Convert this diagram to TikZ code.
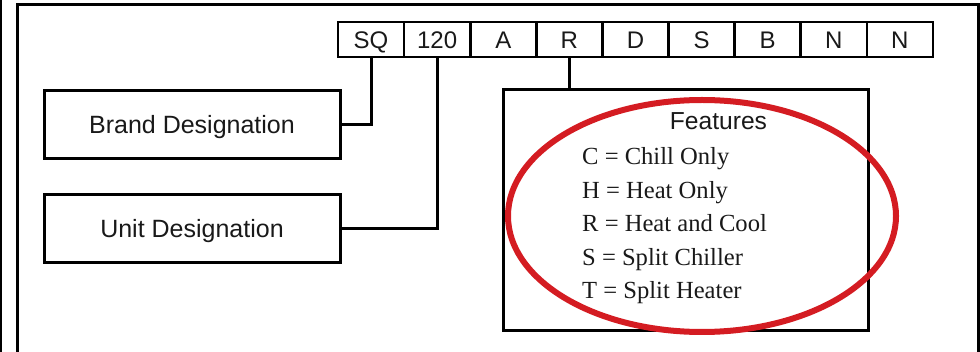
\documentclass[tikz,border=0pt]{standalone}
\usepackage{fontspec}
\setmainfont{Liberation Serif}
\setsansfont{Liberation Sans}
\definecolor{ovalred}{RGB}{212,28,34}
\definecolor{ink}{RGB}{25,25,25}
\begin{document}
\begin{tikzpicture}[x=1pt,y=-1pt,
  codebox/.style={draw,line width=2.6pt,minimum width=66.1pt,minimum height=35pt,inner sep=0pt,
    text height=17.5pt,text depth=0pt,text=ink,font=\sffamily\fontsize{24}{24}\selectfont},
  labelbox/.style={draw,line width=3pt,minimum width=296pt,minimum height=68pt,inner sep=0pt,
    text height=18pt,text depth=0pt,text=ink,font=\sffamily\fontsize{25}{25}\selectfont},
  featbox/.style={draw,line width=3pt,minimum width=365pt,minimum height=241pt,inner sep=0pt},
  conn/.style={line width=3pt},
  feattitle/.style={anchor=base,inner sep=0pt,text=ink,font=\sffamily\fontsize{24.6}{24.6}\selectfont},
  featline/.style={anchor=base west,inner sep=0pt,text=ink,font=\rmfamily\fontsize{24.6}{24.6}\selectfont},
  oval/.style={draw=ovalred,line width=6pt}]
\useasboundingbox (0,0) rectangle (980,352);
% outer frame lines
\draw[line width=2.5pt] (1.2,0) -- (1.2,352);
\draw[line width=3pt] (17.5,352) -- (17.5,4.5) -- (978,4.5) -- (978,352);
% code boxes
\foreach \t/\n [count=\i from 0] in {SQ/sq,120/num,A/ca,R/cr,D/cd,S/cs,B/cb,N/cn1,N/cn2}{
  \node[codebox] (\n) at ({338+66.1*(\i+0.5)},39.5) {\t};
}
% label boxes
\node[labelbox] (brand) at (192,125) {Brand Designation};
\node[labelbox] (unit) at (192,229) {Unit Designation};
% features box
\node[featbox] (feat) at (685.5,210.5) {};
\node[feattitle] (ftitle) at (718.5,130) {Features};
\node[featline] (f1) at (582,165) {C = Chill Only};
\node[featline] (f2) at (582,198.5) {H = Heat Only};
\node[featline] (f3) at (582,232) {R = Heat and Cool};
\node[featline] (f4) at (582,265.5) {S = Split Chiller};
\node[featline] (f5) at (582,299) {T = Split Heater};
% connectors
\draw[conn] (sq.south) |- (brand.east);
\draw[conn] (num.south) |- (unit.east);
\draw[conn] (cr.south) -- (cr.south |- feat.north);
% red oval
\draw[oval] (702,216) ellipse [x radius=194, y radius=116];
\end{tikzpicture}
\end{document}
